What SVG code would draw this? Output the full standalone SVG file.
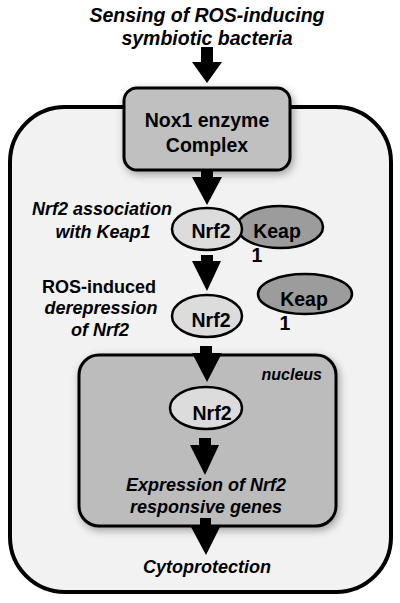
<svg xmlns="http://www.w3.org/2000/svg" width="400" height="603" viewBox="0 0 400 603">
<defs>
<filter id="sh" x="-20%" y="-20%" width="140%" height="140%">
<feGaussianBlur in="SourceAlpha" stdDeviation="4"/>
<feOffset dx="2" dy="3" result="b"/>
<feComponentTransfer><feFuncA type="linear" slope="0.35"/></feComponentTransfer>
<feMerge><feMergeNode/><feMergeNode in="SourceGraphic"/></feMerge>
</filter>
</defs>
<style>
text{font-family:"Liberation Sans",Arial,sans-serif;font-weight:bold;fill:#000;text-anchor:middle}
.it{font-style:italic}
.lab{font-size:18px}
.node{font-size:19.5px}
.nrf{fill:#dcdcdc;stroke:#000;stroke-width:2.5}
.keap{fill:#9c9c9c;stroke:#000;stroke-width:2.5}
.arr{fill:#000}
</style>
<rect id="cell" x="10" y="107" width="381" height="485" rx="55" ry="55" fill="#f2f2f2" stroke="#000" stroke-width="4"/>
<text class="it" x="207" y="22" font-size="19.5">Sensing of ROS-inducing</text>
<text class="it" x="207" y="45" font-size="19.5">symbiotic bacteria</text>
<g id="nox1">
<rect x="124" y="88" width="166" height="82" rx="13" ry="13" fill="#c0c0c0" stroke="#000" stroke-width="3" filter="url(#sh)"/>
<text class="node" x="207" y="127">Nox1 enzyme</text>
<text class="node" x="207" y="152">Complex</text>
</g>
<g id="nucleus">
<rect x="79" y="355" width="257" height="171" rx="20" ry="20" fill="#bcbcbc" stroke="#000" stroke-width="3" filter="url(#sh)"/>
<text class="it" x="322" y="380" font-size="16" style="text-anchor:end">nucleus</text>
</g>
<g id="labels">
<text class="it lab" x="102" y="215">Nrf2 association</text>
<text class="it lab" x="103" y="238">with Keap1</text>
<text class="lab" x="99" y="293">ROS-induced</text>
<text class="it lab" x="101" y="314">derepression</text>
<text class="it lab" x="100" y="336">of Nrf2</text>
</g>
<g id="keap1a">
<ellipse class="keap" cx="280" cy="227" rx="43" ry="21"/>
<text class="node" x="277" y="238">Keap</text>
<text class="node" x="257" y="262">1</text>
</g>
<g id="nrf2a">
<ellipse class="nrf" cx="207" cy="229" rx="35" ry="21"/>
<text class="node" x="211" y="238">Nrf2</text>
</g>
<g id="nrf2b">
<ellipse class="nrf" cx="207" cy="316" rx="35" ry="21"/>
<text class="node" x="211" y="327">Nrf2</text>
</g>
<g id="keap1b">
<ellipse class="keap" cx="305" cy="294" rx="47" ry="20"/>
<text class="node" x="304" y="306">Keap</text>
<text class="node" x="285" y="330">1</text>
</g>
<g id="nrf2c">
<ellipse class="nrf" cx="206" cy="408" rx="36" ry="21"/>
<text class="node" x="212" y="420">Nrf2</text>
</g>
<g id="expression">
<text class="it lab" x="206" y="491">Expression of Nrf2</text>
<text class="it lab" x="206" y="513">responsive genes</text>
</g>
<g id="cyto">
<text class="it lab" x="207" y="573">Cytoprotection</text>
</g>
<g id="connectors">
<polygon class="arr" points="201,47 213,47 213,62 222,62 207,83 192,62 201,62"/>
<polygon class="arr" points="201,170 213,170 213,177 222,177 207,205 192,177 201,177"/>
<polygon class="arr" points="201,255 213,255 213,261 221,261 207,291 192,261 201,261"/>
<polygon class="arr" points="200,346 212,346 212,353 222,353 207,382 192,353 200,353"/>
<polygon class="arr" points="199,438 211,438 211,445 219,445 205,475 190,445 199,445"/>
<polygon class="arr" points="200,518 211,518 211,527 220,527 206,555 191,527 200,527"/>
</g>
</svg>
